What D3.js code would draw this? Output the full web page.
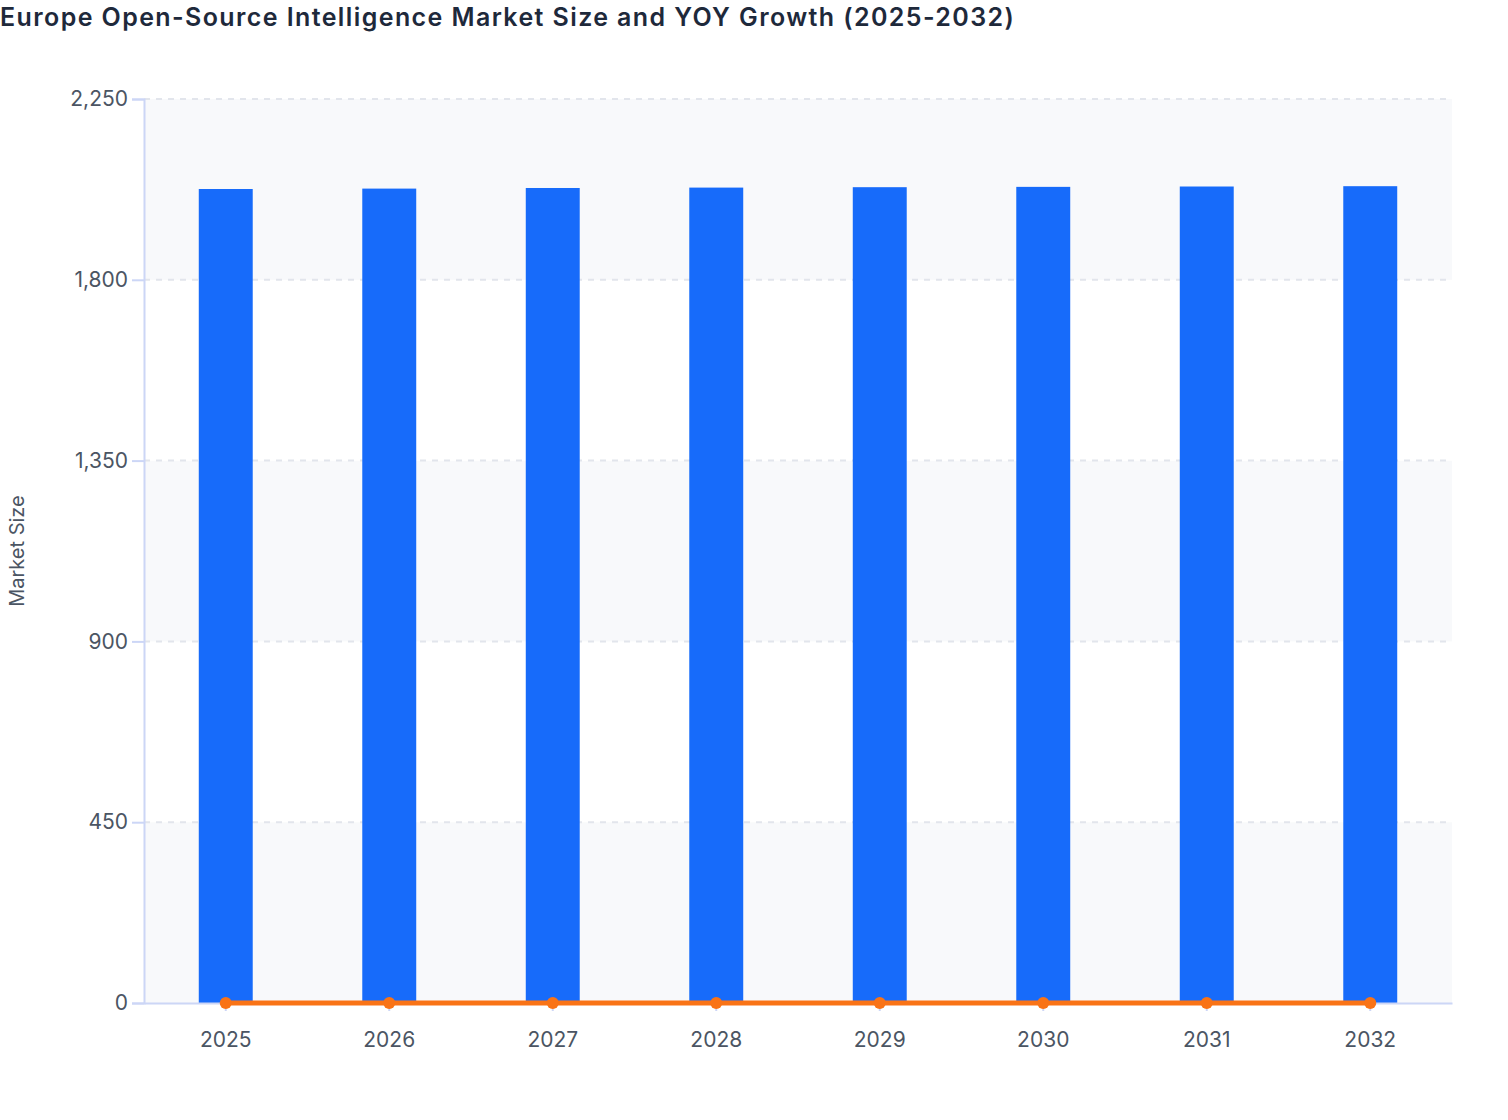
<!DOCTYPE html>
<html>
<head>
<meta charset="utf-8">
<script src="https://cdn.jsdelivr.net/npm/d3@7"></script>
<style>
  body { margin: 0; background: #fff; font-family: Inter, "Noto Sans", sans-serif; }
  svg { display: block; }
</style>
</head>
<body>
<div id="chart"></div>
<script>
// data
const years = ['2025', '2026', '2027', '2028', '2029', '2030', '2031', '2032'];
const marketSize = [2026, 2027, 2028.5, 2029.5, 2030.5, 2031.3, 2032.2, 2033];
const yoyGrowth = [0, 0.05, 0.07, 0.05, 0.05, 0.04, 0.04, 0.04];
const yTicks = [0, 450, 900, 1350, 1800, 2250];

const width = 1508, height = 1120;
const margin = { top: 99, right: 56, bottom: 117, left: 144 };
const innerW = width - margin.left - margin.right;
const innerH = height - margin.top - margin.bottom;

const svg = d3.select('#chart').append('svg')
  .attr('width', width)
  .attr('height', height);

svg.append('text')
  .attr('x', 0)
  .attr('y', 26)
  .attr('fill', '#1e293b')
  .style('font-size', '25px')
  .style('font-weight', 600)
  .style('letter-spacing', '1.4px')
  .text('Europe Open-Source Intelligence Market Size and YOY Growth (2025-2032)');

const g = svg.append('g')
  .attr('transform', `translate(${margin.left},${margin.top})`);

const x = d3.scaleBand()
  .domain(years)
  .range([0, innerW])
  .paddingInner(0.67)
  .paddingOuter(0.335);

const y = d3.scaleLinear()
  .domain([0, 2250])
  .range([innerH, 0]);

// alternating background bands
g.selectAll('.band')
  .data(d3.pairs(yTicks))
  .join('rect')
  .attr('class', 'band')
  .attr('x', 0)
  .attr('width', innerW)
  .attr('y', d => y(d[1]))
  .attr('height', d => y(d[0]) - y(d[1]))
  .attr('fill', (d, i) => i % 2 === 0 ? '#f8f9fb' : '#ffffff');

// grid lines
g.selectAll('.grid')
  .data(yTicks.slice(1))
  .join('line')
  .attr('class', 'grid')
  .attr('x1', 0)
  .attr('x2', innerW)
  .attr('y1', d => y(d))
  .attr('y2', d => y(d))
  .attr('stroke', '#e2e5ec')
  .attr('stroke-width', 2)
  .attr('stroke-dasharray', '6,6');

// bars
g.selectAll('.bar')
  .data(marketSize)
  .join('rect')
  .attr('class', 'bar')
  .attr('x', (d, i) => x(years[i]))
  .attr('width', x.bandwidth())
  .attr('y', d => y(d))
  .attr('height', d => y(0) - y(d))
  .attr('fill', '#176bfa');

// axes
const yAxis = g.append('g')
  .call(d3.axisLeft(y).tickValues(yTicks).tickSize(12).tickPadding(4).tickFormat(d3.format(',')));

const xAxis = g.append('g')
  .attr('transform', `translate(0,${innerH})`)
  .call(d3.axisBottom(x).tickSize(8).tickPadding(21).tickSizeOuter(0));

[yAxis, xAxis].forEach(a => {
  a.select('.domain').attr('stroke', '#ccd6f6').attr('stroke-width', 2);
  a.selectAll('.tick line').attr('stroke', '#ccd6f6').attr('stroke-width', 2);
  a.selectAll('.tick text')
    .attr('fill', '#4b5563')
    .style('font-size', '21px')
    .style('font-family', 'Inter, "Noto Sans", sans-serif');
});

// growth line
const line = d3.line()
  .x((d, i) => x(years[i]) + x.bandwidth() / 2)
  .y(d => y(d));

g.append('path')
  .datum(yoyGrowth)
  .attr('fill', 'none')
  .attr('stroke', '#f97316')
  .attr('stroke-width', 5)
  .attr('d', line);

g.selectAll('.dot')
  .data(yoyGrowth)
  .join('circle')
  .attr('class', 'dot')
  .attr('cx', (d, i) => x(years[i]) + x.bandwidth() / 2)
  .attr('cy', d => y(d))
  .attr('r', 6)
  .attr('fill', '#f97316');

// y axis title
svg.append('text')
  .attr('transform', `translate(24,${margin.top + innerH / 2}) rotate(-90)`)
  .attr('text-anchor', 'middle')
  .attr('fill', '#4b5563')
  .style('font-size', '20px')
  .text('Market Size');
</script>
</body>
</html>
